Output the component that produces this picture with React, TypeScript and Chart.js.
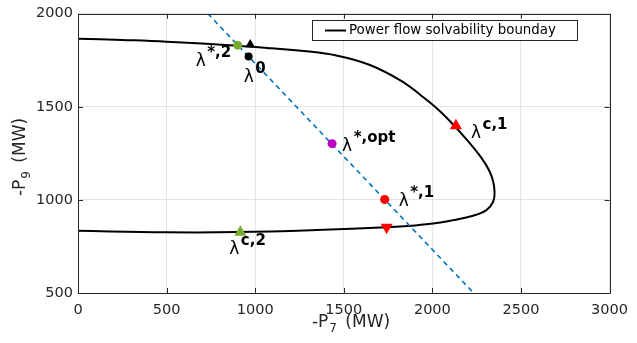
import React, { useEffect, useRef } from 'react';
import { Chart, registerables } from 'chart.js';
Chart.register(...registerables);

// Power flow solvability boundary (traced in order: upper branch -> nose -> lower branch)
const boundaryX = [0, 250, 500, 900, 1087, 1273, 1458, 1644, 1829, 1941, 2015, 2089, 2200, 2275, 2322, 2344, 2351, 2343, 2305, 2230, 2110, 2015, 1903, 1742, 1347, 900, 500, 0];
const boundaryY = [1866, 1859, 1850, 1828, 1815, 1800, 1776, 1726, 1637, 1557, 1500, 1433, 1317, 1228, 1155, 1095, 1040, 990, 945, 915, 890, 874, 863, 853, 838, 827, 826, 834];

// Dashed line endpoints
const dashX = [733, 2233];
const dashY = [2000, 500];

// Markers
const markerX = [901, 972, 963, 1434, 2133, 1731, 1742, 916];
const markerY = [1831, 1834, 1770, 1302, 1398, 1002, 853, 826];

// Labels: superscript per marker
const labelSups = ['*,2', '', '0', '*,opt', 'c,1', '*,1', '', 'c,2'];

const xTicks = [0, 500, 1000, 1500, 2000, 2500, 3000];
const yTicks = [500, 1000, 1500, 2000];

const legendText = 'Power flow solvability bounday';

const FONT = "'DejaVu Sans', Verdana, sans-serif";
const AX = '#262626';

const markerStyles = [
  { color: '#77AC30', style: 'circle', r: 4.5, rot: 0 },
  { color: '#000000', style: 'triangle', r: 5.5, rot: 0 },
  { color: '#000000', style: 'circle', r: 4, rot: 0 },
  { color: '#BF00BF', style: 'circle', r: 4.5, rot: 0 },
  { color: '#FF0000', style: 'triangle', r: 7, rot: 0 },
  { color: '#FF0000', style: 'circle', r: 4.5, rot: 0 },
  { color: '#FF0000', style: 'triangle', r: 7, rot: 180 },
  { color: '#77AC30', style: 'triangle', r: 7, rot: 0 },
];

// pixel offsets of the lambda glyph (left, baseline) relative to the marker
const labelOffsets = [
  [-42, 21], null, [-5, 25], [10, 7], [15, 12], [14, 6], null, [-11, 22],
];

type Part = { t: string; f: string; dy: number; gap?: number };
function drawRich(ctx: CanvasRenderingContext2D, parts: Part[], x: number, y: number, center: boolean) {
  let w = 0;
  for (const p of parts) { ctx.font = p.f; w += ctx.measureText(p.t).width + (p.gap || 0); }
  let cx = center ? x - w / 2 : x;
  for (const p of parts) {
    ctx.font = p.f;
    cx += p.gap || 0;
    ctx.fillText(p.t, cx, y + p.dy);
    cx += ctx.measureText(p.t).width;
  }
}

const decorPlugin = {
  id: 'decor',
  afterDatasetsDraw(chart: any) {
    const ctx: CanvasRenderingContext2D = chart.ctx;
    const { left, right, top, bottom } = chart.chartArea;
    const xs = chart.scales.x;
    const ys = chart.scales.y;
    ctx.save();
    // box + inward ticks
    ctx.strokeStyle = AX;
    ctx.lineWidth = 1;
    ctx.beginPath();
    ctx.rect(Math.round(left) + 0.5, Math.round(top) + 0.5, Math.round(right - left), Math.round(bottom - top));
    const tl = 5;
    for (const v of xTicks) {
      const px = Math.round(xs.getPixelForValue(v)) + 0.5;
      ctx.moveTo(px, bottom); ctx.lineTo(px, bottom - tl);
      ctx.moveTo(px, top); ctx.lineTo(px, top + tl);
    }
    for (const v of yTicks) {
      const py = Math.round(ys.getPixelForValue(v)) + 0.5;
      ctx.moveTo(left, py); ctx.lineTo(left + tl, py);
      ctx.moveTo(right, py); ctx.lineTo(right - tl, py);
    }
    ctx.stroke();

    // point labels
    ctx.fillStyle = '#000';
    ctx.textAlign = 'left';
    ctx.textBaseline = 'alphabetic';
    for (let i = 0; i < markerX.length; i++) {
      const off = labelOffsets[i];
      if (!off) continue;
      const px = xs.getPixelForValue(markerX[i]) + off[0];
      const py = ys.getPixelForValue(markerY[i]) + off[1];
      ctx.font = `17px ${FONT}`;
      ctx.fillText('λ', px, py);
      const lw = ctx.measureText('λ').width;
      ctx.font = `bold 15px ${FONT}`;
      ctx.fillText(labelSups[i], px + lw + 1.5, py - 9);
    }

    // legend
    const lx = 312, ly = 20, lw2 = 265, lh = 20;
    ctx.fillStyle = '#fff';
    ctx.fillRect(lx, ly, lw2, lh);
    ctx.strokeStyle = AX;
    ctx.lineWidth = 1;
    ctx.strokeRect(lx + 0.5, ly + 0.5, lw2, lh);
    ctx.strokeStyle = '#000';
    ctx.lineWidth = 2;
    ctx.beginPath();
    ctx.moveTo(325, ly + 10.5); ctx.lineTo(346, ly + 10.5);
    ctx.stroke();
    ctx.fillStyle = '#000';
    ctx.font = `13.4px ${FONT}`;
    ctx.textBaseline = 'middle';
    ctx.fillText(legendText, 349, ly + 11);

    // axis titles
    ctx.fillStyle = AX;
    ctx.textBaseline = 'alphabetic';
    const mf = `17px ${FONT}`;
    const sf = `12px ${FONT}`;
    drawRich(ctx, [{ t: '-P', f: mf, dy: 0 }, { t: '7', f: sf, dy: 5, gap: 1 }, { t: ' (MW)', f: mf, dy: 0, gap: 3 }], 351, 327, true);
    ctx.translate(24.5, 157);
    ctx.rotate(-Math.PI / 2);
    drawRich(ctx, [{ t: '-P', f: mf, dy: 0 }, { t: '9', f: sf, dy: 5, gap: 1 }, { t: ' (MW)', f: mf, dy: 0, gap: 3 }], 0, 0, true);
    ctx.restore();
  },
};

export default function App() {
  const ref = useRef<HTMLCanvasElement>(null);
  useEffect(() => {
    if (!ref.current) return;
    const markerSets = markerX.map((x, i) => ({
      data: [{ x, y: markerY[i] }],
      showLine: false,
      pointStyle: markerStyles[i].style,
      pointRadius: markerStyles[i].r,
      pointRotation: markerStyles[i].rot,
      pointBackgroundColor: markerStyles[i].color,
      pointBorderColor: markerStyles[i].color,
      pointBorderWidth: 0,
    }));
    const chart = new Chart(ref.current, {
      type: 'scatter',
      data: {
        datasets: [
          ...markerSets,
          {
            data: dashX.map((x, i) => ({ x, y: dashY[i] })),
            showLine: true,
            borderColor: '#0072BD',
            borderWidth: 1.6,
            borderDash: [5, 4],
            pointRadius: 0,
          },
          {
            data: boundaryX.map((x, i) => ({ x, y: boundaryY[i] })),
            showLine: true,
            borderColor: '#000',
            borderWidth: 2,
            tension: 0.4,
            pointRadius: 0,
          },
        ] as any,
      },
      options: {
        animation: false,
        responsive: false,
        events: [],
        layout: { padding: { left: 0, top: 12, right: 20, bottom: 0 } },
        plugins: { legend: { display: false }, tooltip: { enabled: false } },
        scales: {
          x: {
            type: 'linear', min: 0, max: 3000,
            afterFit: (s: any) => { s.height = 50; },
            ticks: { stepSize: 500, color: AX, font: { family: FONT, size: 14.5 }, padding: 9, maxRotation: 0, callback: (v: any) => String(v) },
            grid: { color: '#e4e4e4', drawTicks: false },
            border: { display: false },
          },
          y: {
            type: 'linear', min: 500, max: 2000,
            afterFit: (s: any) => { s.width = 78; },
            ticks: { stepSize: 500, color: AX, font: { family: FONT, size: 14.5 }, padding: 5, callback: (v: any) => String(v) },
            grid: { color: '#e4e4e4', drawTicks: false },
            border: { display: false },
          },
        },
      } as any,
      plugins: [decorPlugin],
    });
    return () => chart.destroy();
  }, []);
  return (
    <div style={{ position: 'fixed', left: 0, top: 0, width: 637, height: 343, background: '#fff' }}>
      <canvas ref={ref} width={637} height={343} />
    </div>
  );
}
